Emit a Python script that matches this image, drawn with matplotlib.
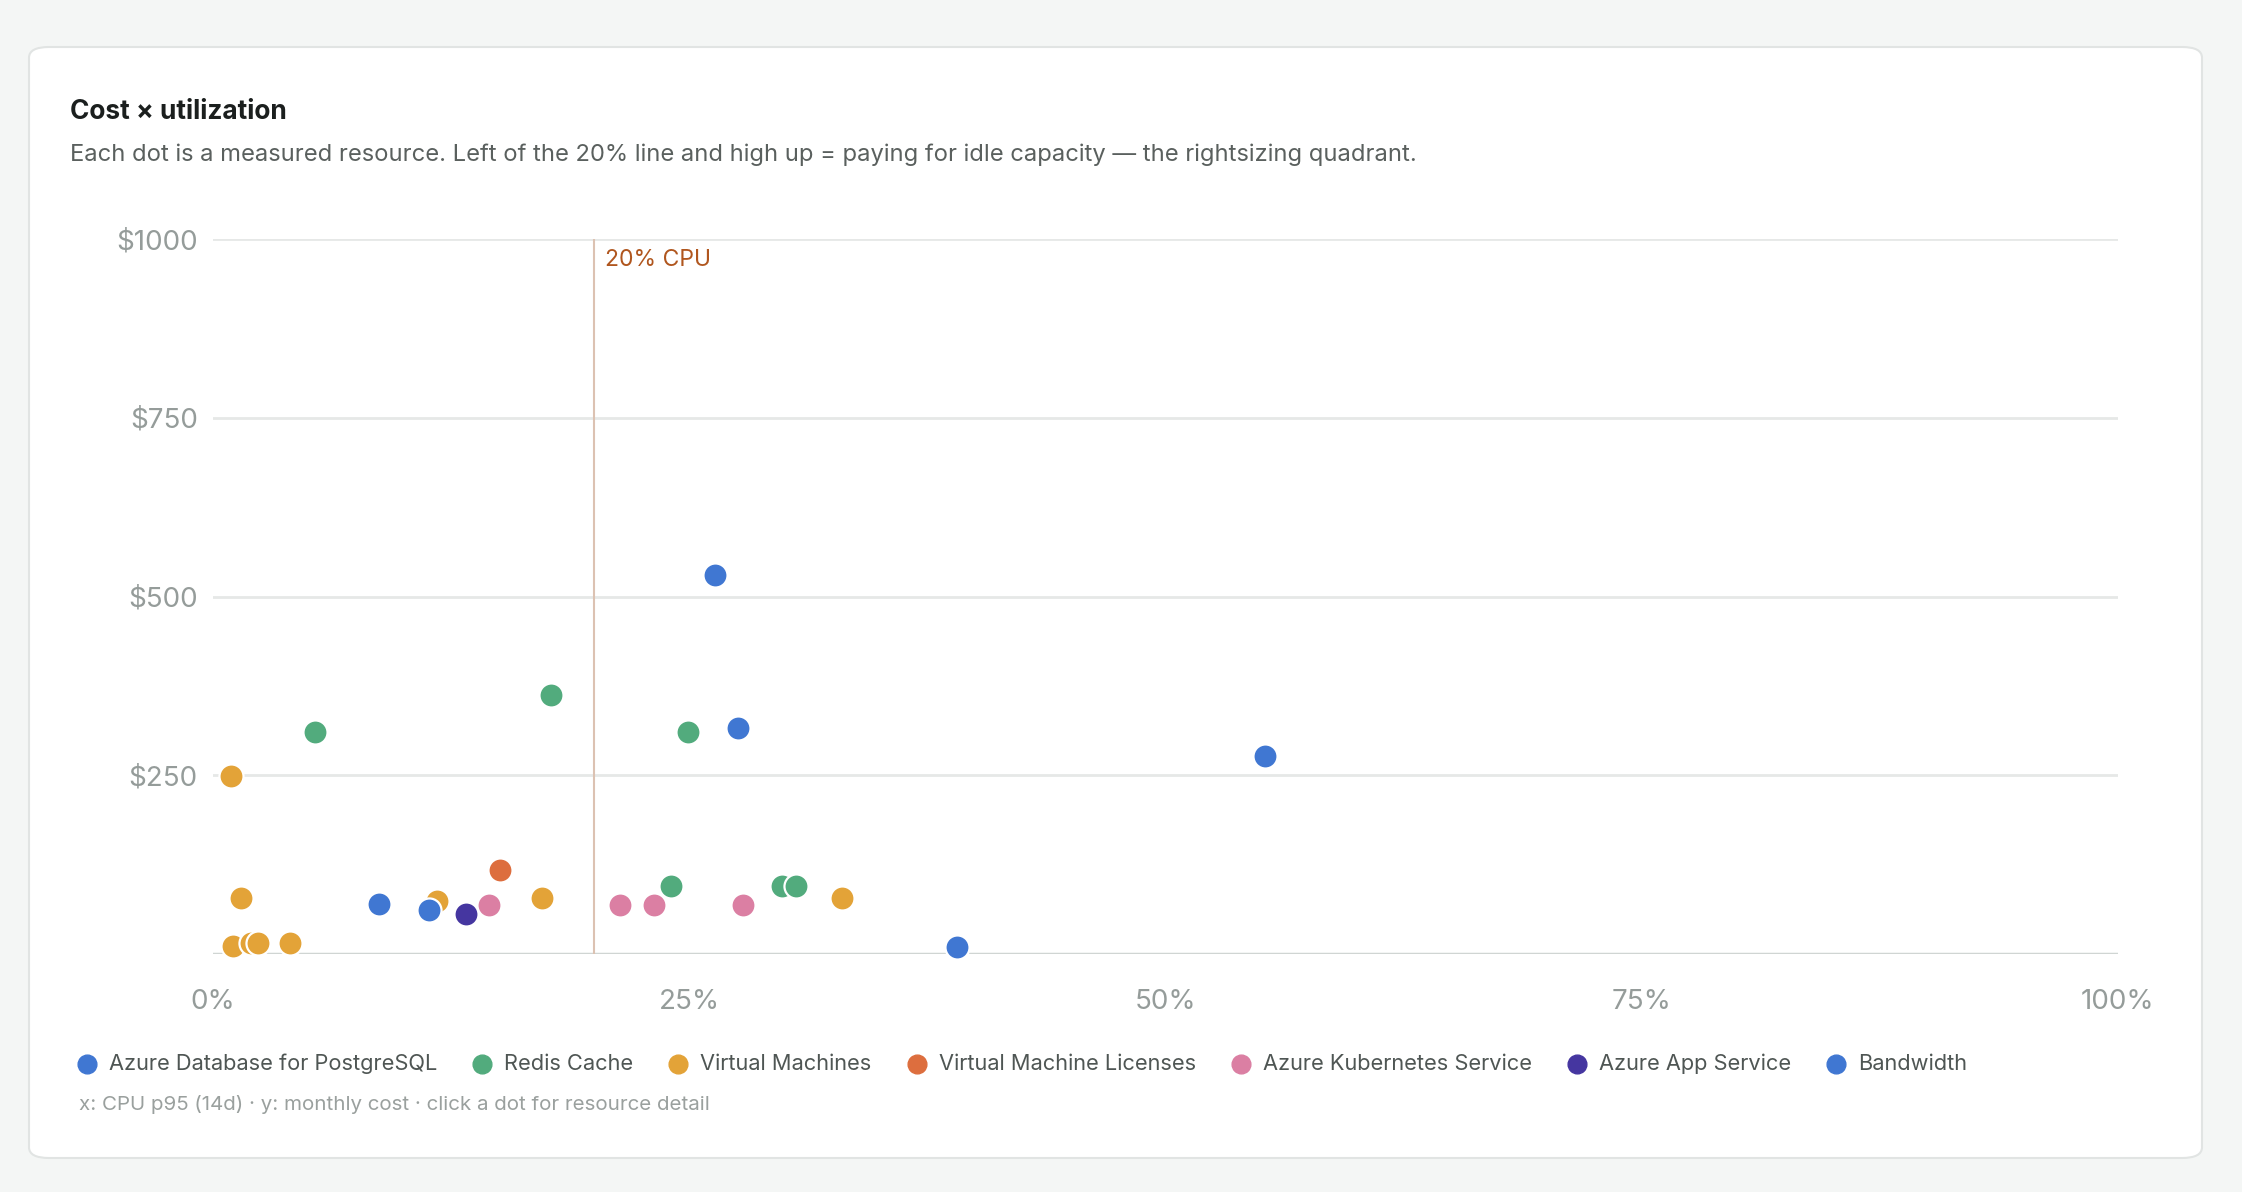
import matplotlib
matplotlib.use("Agg")
import matplotlib.pyplot as plt
from matplotlib.patches import FancyBboxPatch

plt.rcParams['font.family'] = ['Inter', 'DejaVu Sans']

# ---- data ----
series_names = ["Azure Database for PostgreSQL", "Redis Cache", "Virtual Machines",
                "Virtual Machine Licenses", "Azure Kubernetes Service",
                "Azure App Service", "Bandwidth"]
series_colors = ["#4077d2", "#52ab7d", "#e3a338", "#dd6e3e", "#db7fa3", "#4536a0", "#4077d2"]

pg_x = [26.35, 27.55, 55.24, 8.71]
pg_y = [530, 316, 277, 70]
redis_x = [5.37, 17.74, 24.95, 24.04, 29.85, 30.6]
redis_y = [311, 362, 311, 95, 95, 95]
vm_x = [0.92, 1.49, 11.74, 17.29, 33.0, 1.06, 1.97, 2.36, 4.06]
vm_y = [249, 78, 74, 78, 78, 11, 16, 16, 16]
vml_x = [15.07]
vml_y = [118]
aks_x = [14.48, 21.39, 23.15, 27.82]
aks_y = [68, 68, 68, 68]
app_x = [13.27]
app_y = [56]
bw_x = [11.34, 39.06]
bw_y = [61, 10]

series_x = [pg_x, redis_x, vm_x, vml_x, aks_x, app_x, bw_x]
series_y = [pg_y, redis_y, vm_y, vml_y, aks_y, app_y, bw_y]

y_ticks = [250, 500, 750, 1000]
y_tick_labels = ["$250", "$500", "$750", "$1000"]
x_ticks = [0, 25, 50, 75, 100]
x_tick_labels = ["0%", "25%", "50%", "75%", "100%"]
threshold = 20

W, H = 2242, 1192
fig = plt.figure(figsize=(W / 100, H / 100), dpi=100)
fig.patch.set_facecolor("#f4f6f5")

# card
card = FancyBboxPatch((29 / W, 1 - 1158 / H), (2202 - 29) / W, (1158 - 47) / H,
                      boxstyle="round,pad=0,rounding_size=0.009",
                      transform=fig.transFigure, facecolor="white",
                      edgecolor="#e1e4e3", linewidth=1.5, zorder=-10)
fig.patches.append(card)

fig.text(70 / W, 1 - 112 / H, "Cost × utilization", fontsize=18.9, fontweight="bold",
         color="#1b1f1e", va="center", ha="left")
fig.text(70 / W, 1 - 155 / H,
         "Each dot is a measured resource. Left of the 20% line and high up = paying for idle capacity — the rightsizing quadrant.",
         fontsize=17.1, color="#5a605e", va="center", ha="left")

ax = fig.add_axes([213 / W, 1 - 954 / H, 1905 / W, (954 - 239) / H], zorder=1)
ax.set_facecolor("none")
ax.set_xlim(0, 100)
ax.set_ylim(0, 1000)
for s in ax.spines.values():
    s.set_visible(False)

for yt in y_ticks:
    ax.axhline(yt, color="#e6e8e7", linewidth=2, zorder=1)
ax.axhline(0, color="#d0d5d3", linewidth=2.5, zorder=1)
ax.axvline(threshold, color="#dcc2b2", linewidth=1.5, zorder=1)
ax.text(threshold + 0.6, 970, f"{threshold}% CPU", color="#b0561e", fontsize=16.5,
        va="center", ha="left")

ax.set_yticks(y_ticks)
ax.set_yticklabels(y_tick_labels)
ax.set_xticks(x_ticks)
ax.set_xticklabels(x_tick_labels)
ax.tick_params(axis="both", length=0, labelsize=20, labelcolor="#959c9a")
ax.tick_params(axis="y", pad=11)
ax.tick_params(axis="x", pad=25.5)

for i, (xs, ys) in enumerate(zip(series_x, series_y)):
    ax.scatter(xs, ys, s=300, color=series_colors[i], edgecolors="white",
               linewidths=1.6, zorder=3 + i, clip_on=False)

# legend (manual, sequential)
fig.canvas.draw()
renderer = fig.canvas.get_renderer()
lx = 87
ly = 1 - 1064 / H
for name, col in zip(series_names, series_colors):
    fig.add_artist(plt.Line2D([lx / W], [ly], marker="o", markersize=13.5,
                              color=col, linestyle="none",
                              transform=fig.transFigure))
    t = fig.text((lx + 22) / W, ly, name, fontsize=15.7, color="#4f5654",
                 va="center", ha="left")
    bb = t.get_window_extent(renderer=renderer)
    lx = bb.x1 + 45

fig.text(79 / W, 1 - 1104 / H,
         "x: CPU p95 (14d) · y: monthly cost · click a dot for resource detail",
         fontsize=14.8, color="#9aa09e", va="center", ha="left")

fig.savefig("out.png", dpi=100, facecolor=fig.get_facecolor())
